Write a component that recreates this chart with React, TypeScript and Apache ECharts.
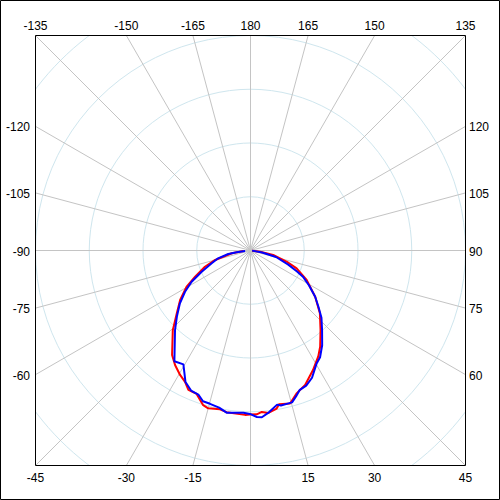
import React, { useEffect, useRef } from "react";
import * as echarts from "echarts";

// Angle tick labels shown on the frame edges
const topTicks = [-135, -150, -165, 180, 165, 150, 135];
const leftTicks = [-120, -105, -90, -75, -60];
const rightTicks = [120, 105, 90, 75, 60];
const bottomTicks = [-45, -30, -15, 15, 30, 45];

// Red series (angle in degrees, 0 = bottom; radius in ring units, 10 per ring)
const redAngle = [-86.0, -81.5, -75.0, -70.4, -64.7, -60.4, -54.9, -49.6, -44.3, -36.9, -33.4, -29.5, -26.5, -24.0, -20.6, -17.0, -15.0, -10.9, -8.4, -1.9, -0.2, 2.2, 4.0, 6.3, 9.4, 10.5, 14.5, 18.0, 22.1, 27.6, 32.6, 35.9, 41.4, 47.9, 54.4, 62.3, 68.9, 72.8, 78.8, 82.8, 85];
const redRadius = [1.3, 3.5, 6.8, 9.0, 11.4, 13.7, 16.0, 18.0, 20.7, 24.3, 25.5, 26.6, 27.3, 28.4, 28.5, 30.1, 30.4, 30.1, 30.4, 30.6, 30.5, 30.5, 30.1, 30.4, 29.8, 29.1, 29.4, 27.9, 27.0, 25.1, 23.4, 22.1, 19.7, 17.4, 14.8, 11.8, 9.2, 7.1, 4.3, 1.8, 0.3];

// Blue series
const blueAngle = [-84.8, -82.6, -81.0, -76.4, -71.7, -66.5, -62.0, -57.8, -53.2, -48.1, -43.5, -34.5, -30.5, -26.3, -23.0, -19.9, -17.5, -14.8, -11.3, -8.4, -2.5, -0.2, 2.2, 3.9, 6.5, 9.8, 11.1, 15.3, 17.4, 19.5, 22.4, 25.8, 30.2, 33.1, 37.1, 42.0, 46.5, 50.4, 54.4, 59.1, 63.5, 65.7, 69.5, 75.7, 80.1, 85];
const blueRadius = [1.0, 2.6, 4.2, 6.2, 7.6, 9.9, 12.4, 14.4, 16.4, 18.4, 20.4, 25.0, 24.6, 27.3, 28.3, 28.5, 29.4, 29.5, 29.8, 30.5, 30.2, 30.4, 31.0, 31.1, 30.3, 29.1, 29.4, 29.3, 28.4, 27.5, 27.2, 26.3, 24.4, 23.7, 22.1, 19.9, 18.2, 16.4, 14.8, 12.7, 10.9, 9.5, 7.5, 4.9, 2.2, 0.3];

const C = 250.5;
const H = 215;
const RING_PX = H / 4;
const FONT = '12px "Liberation Sans", Arial, sans-serif';

function edgePoint(a: number): [number, number] {
  const rad = (a * Math.PI) / 180;
  const s = Math.sin(rad);
  const c = Math.cos(rad);
  const t = H / Math.max(Math.abs(s), Math.abs(c));
  return [C + s * t, C + c * t];
}

function label(text: string, x: number, y: number, align: string) {
  return {
    type: "text",
    z: 102,
    silent: true,
    style: {
      text,
      x,
      y,
      font: FONT,
      fill: "#000",
      align,
      textAlign: align,
      verticalAlign: "middle",
      textVerticalAlign: "middle",
    },
  };
}

export default function App() {
  const ref = useRef<HTMLDivElement>(null);
  useEffect(() => {
    if (!ref.current) return;
    const chart = echarts.init(ref.current, null, { renderer: "svg" });

    const texts: any[] = [];
    topTicks.forEach((a) => {
      const p = edgePoint(a);
      texts.push(label(String(a), p[0], 25.5, "center"));
    });
    bottomTicks.forEach((a) => {
      const p = edgePoint(a);
      texts.push(label(String(a), p[0], 478, "center"));
    });
    leftTicks.forEach((a) => {
      const p = edgePoint(a);
      texts.push(label(String(a), 30, p[1] + 1, "right"));
    });
    rightTicks.forEach((a) => {
      const p = edgePoint(a);
      texts.push(label(String(a), 469, p[1] + 1, "left"));
    });

    const lo = C - H;
    const hi = C + H;
    const masks = [
      { x: 0, y: 0, width: 500, height: lo },
      { x: 0, y: hi, width: 500, height: 500 - hi },
      { x: 0, y: 0, width: lo, height: 500 },
      { x: hi, y: 0, width: 500 - hi, height: 500 },
    ].map((s) => ({
      type: "rect",
      z: 100,
      silent: true,
      shape: s,
      style: { fill: "#fff", stroke: null },
    }));

    chart.setOption({
      animation: false,
      backgroundColor: "#fff",
      polar: { center: [C, C], radius: RING_PX * 6 },
      angleAxis: {
        type: "value",
        min: -180,
        max: 180,
        interval: 15,
        startAngle: 90,
        clockwise: false,
        axisLine: { show: false },
        axisTick: { show: false },
        axisLabel: { show: false },
        splitLine: { show: true, lineStyle: { color: "#c4c4c4", width: 1 } },
      },
      radiusAxis: {
        type: "value",
        min: 0,
        max: 60,
        interval: 10,
        axisLine: { show: false },
        axisTick: { show: false },
        axisLabel: { show: false },
        splitLine: { show: true, lineStyle: { color: "#cfe6ee", width: 1 } },
      },
      series: [
        {
          type: "line",
          coordinateSystem: "polar",
          showSymbol: false,
          symbol: "none",
          lineStyle: { color: "#ff0000", width: 2 },
          data: redAngle.map((a, i) => [redRadius[i], a]),
          z: 3,
        },
        {
          type: "line",
          coordinateSystem: "polar",
          showSymbol: false,
          symbol: "none",
          lineStyle: { color: "#0000ff", width: 2 },
          data: blueAngle.map((a, i) => [blueRadius[i], a]),
          z: 4,
        },
      ],
      graphic: [
        ...masks,
        {
          type: "rect",
          z: 101,
          silent: true,
          shape: { x: lo, y: lo, width: 2 * H, height: 2 * H },
          style: { fill: "none", stroke: "#000", lineWidth: 1 },
        },
        {
          type: "rect",
          z: 101,
          silent: true,
          shape: { x: 0.5, y: 0.5, width: 499, height: 499 },
          style: { fill: "none", stroke: "#000", lineWidth: 1 },
        },
        ...texts,
      ],
    });
    return () => chart.dispose();
  }, []);
  return (
    <div
      ref={ref}
      style={{ position: "fixed", left: 0, top: 0, width: 500, height: 500 }}
    />
  );
}
